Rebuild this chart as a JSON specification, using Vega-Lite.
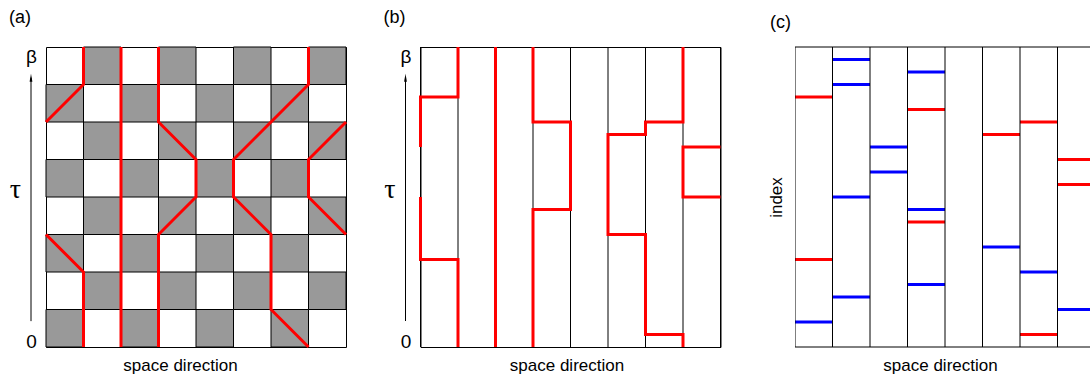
{
  "$schema": "https://vega.github.io/schema/vega-lite/v6.json",
  "background": "white",
  "padding": {"left": 8, "top": 8, "right": 0, "bottom": 0},
  "bounds": "flush",
  "spacing": 74.5,
  "config": {
    "font": "Liberation Sans",
    "view": {"stroke": "black", "strokeWidth": 1},
    "axis": {
      "grid": false, "ticks": false, "domain": false,
      "labelFontSize": 19, "labelColor": "black",
      "titleFontSize": 17, "titleFontWeight": "normal", "titleColor": "black"
    },
    "axisX": {"labels": false, "titlePadding": 10, "titleAlign": "center"},
    "title": {"fontSize": 18, "fontWeight": "normal", "color": "black", "anchor": "start", "frame": "group", "offset": 14.5}
  },
  "datasets": {
    "cells": [
      {"left": 0, "right": 1, "bottom": 0, "top": 1}, {"left": 2, "right": 3, "bottom": 0, "top": 1},
      {"left": 4, "right": 5, "bottom": 0, "top": 1}, {"left": 6, "right": 7, "bottom": 0, "top": 1},
      {"left": 1, "right": 2, "bottom": 1, "top": 2}, {"left": 3, "right": 4, "bottom": 1, "top": 2},
      {"left": 5, "right": 6, "bottom": 1, "top": 2}, {"left": 7, "right": 8, "bottom": 1, "top": 2},
      {"left": 0, "right": 1, "bottom": 2, "top": 3}, {"left": 2, "right": 3, "bottom": 2, "top": 3},
      {"left": 4, "right": 5, "bottom": 2, "top": 3}, {"left": 6, "right": 7, "bottom": 2, "top": 3},
      {"left": 1, "right": 2, "bottom": 3, "top": 4}, {"left": 3, "right": 4, "bottom": 3, "top": 4},
      {"left": 5, "right": 6, "bottom": 3, "top": 4}, {"left": 7, "right": 8, "bottom": 3, "top": 4},
      {"left": 0, "right": 1, "bottom": 4, "top": 5}, {"left": 2, "right": 3, "bottom": 4, "top": 5},
      {"left": 4, "right": 5, "bottom": 4, "top": 5}, {"left": 6, "right": 7, "bottom": 4, "top": 5},
      {"left": 1, "right": 2, "bottom": 5, "top": 6}, {"left": 3, "right": 4, "bottom": 5, "top": 6},
      {"left": 5, "right": 6, "bottom": 5, "top": 6}, {"left": 7, "right": 8, "bottom": 5, "top": 6},
      {"left": 0, "right": 1, "bottom": 6, "top": 7}, {"left": 2, "right": 3, "bottom": 6, "top": 7},
      {"left": 4, "right": 5, "bottom": 6, "top": 7}, {"left": 6, "right": 7, "bottom": 6, "top": 7},
      {"left": 1, "right": 2, "bottom": 7, "top": 8}, {"left": 3, "right": 4, "bottom": 7, "top": 8},
      {"left": 5, "right": 6, "bottom": 7, "top": 8}, {"left": 7, "right": 8, "bottom": 7, "top": 8}
    ],
    "pathsA": [
      {"path": 1, "seq": 0, "x": 1, "y": 0}, {"path": 1, "seq": 1, "x": 1, "y": 2}, {"path": 1, "seq": 2, "x": 0, "y": 3},
      {"path": 2, "seq": 0, "x": 8, "y": 3}, {"path": 2, "seq": 1, "x": 7, "y": 4}, {"path": 2, "seq": 2, "x": 7, "y": 5}, {"path": 2, "seq": 3, "x": 8, "y": 6},
      {"path": 3, "seq": 0, "x": 0, "y": 6}, {"path": 3, "seq": 1, "x": 1, "y": 7}, {"path": 3, "seq": 2, "x": 1, "y": 8},
      {"path": 4, "seq": 0, "x": 2, "y": 0}, {"path": 4, "seq": 1, "x": 2, "y": 8},
      {"path": 5, "seq": 0, "x": 3, "y": 0}, {"path": 5, "seq": 1, "x": 3, "y": 3}, {"path": 5, "seq": 2, "x": 4, "y": 4},
      {"path": 5, "seq": 3, "x": 4, "y": 5}, {"path": 5, "seq": 4, "x": 3, "y": 6}, {"path": 5, "seq": 5, "x": 3, "y": 8},
      {"path": 6, "seq": 0, "x": 7, "y": 0}, {"path": 6, "seq": 1, "x": 6, "y": 1}, {"path": 6, "seq": 2, "x": 6, "y": 3},
      {"path": 6, "seq": 3, "x": 5, "y": 4}, {"path": 6, "seq": 4, "x": 5, "y": 5}, {"path": 6, "seq": 5, "x": 6, "y": 6},
      {"path": 6, "seq": 6, "x": 7, "y": 7}, {"path": 6, "seq": 7, "x": 7, "y": 8}
    ],
    "pathsB": [
      {"path": 1, "seq": 0, "x": 1, "y": 0}, {"path": 1, "seq": 1, "x": 1, "y": 7}, {"path": 1, "seq": 2, "x": 0, "y": 7}, {"path": 1, "seq": 3, "x": 0, "y": 12},
      {"path": 2, "seq": 0, "x": 8, "y": 12}, {"path": 2, "seq": 1, "x": 7, "y": 12}, {"path": 2, "seq": 2, "x": 7, "y": 16}, {"path": 2, "seq": 3, "x": 8, "y": 16},
      {"path": 3, "seq": 0, "x": 0, "y": 16}, {"path": 3, "seq": 1, "x": 0, "y": 20}, {"path": 3, "seq": 2, "x": 1, "y": 20}, {"path": 3, "seq": 3, "x": 1, "y": 24},
      {"path": 4, "seq": 0, "x": 2, "y": 0}, {"path": 4, "seq": 1, "x": 2, "y": 24},
      {"path": 5, "seq": 0, "x": 3, "y": 24}, {"path": 5, "seq": 1, "x": 3, "y": 18}, {"path": 5, "seq": 2, "x": 4, "y": 18},
      {"path": 5, "seq": 3, "x": 4, "y": 11}, {"path": 5, "seq": 4, "x": 3, "y": 11}, {"path": 5, "seq": 5, "x": 3, "y": 0},
      {"path": 6, "seq": 0, "x": 7, "y": 24}, {"path": 6, "seq": 1, "x": 7, "y": 18}, {"path": 6, "seq": 2, "x": 6, "y": 18},
      {"path": 6, "seq": 3, "x": 6, "y": 17}, {"path": 6, "seq": 4, "x": 5, "y": 17}, {"path": 6, "seq": 5, "x": 5, "y": 9},
      {"path": 6, "seq": 6, "x": 6, "y": 9}, {"path": 6, "seq": 7, "x": 6, "y": 1}, {"path": 6, "seq": 8, "x": 7, "y": 1},
      {"path": 6, "seq": 9, "x": 7, "y": 0}
    ],
    "sites": [
      {"site": 0}, {"site": 1}, {"site": 2}, {"site": 3}, {"site": 4},
      {"site": 5}, {"site": 6}, {"site": 7}, {"site": 8}
    ],
    "ends": [{"index": 0}, {"index": 24}],
    "events": [
      {"from": 0, "to": 1, "index": 20, "kind": "A"}, {"from": 0, "to": 1, "index": 7, "kind": "A"}, {"from": 0, "to": 1, "index": 2, "kind": "B"},
      {"from": 1, "to": 2, "index": 23, "kind": "B"}, {"from": 1, "to": 2, "index": 21, "kind": "B"}, {"from": 1, "to": 2, "index": 12, "kind": "B"}, {"from": 1, "to": 2, "index": 4, "kind": "B"},
      {"from": 2, "to": 3, "index": 16, "kind": "B"}, {"from": 2, "to": 3, "index": 14, "kind": "B"},
      {"from": 3, "to": 4, "index": 22, "kind": "B"}, {"from": 3, "to": 4, "index": 19, "kind": "A"}, {"from": 3, "to": 4, "index": 11, "kind": "B"},
      {"from": 3, "to": 4, "index": 10, "kind": "A"}, {"from": 3, "to": 4, "index": 5, "kind": "B"},
      {"from": 5, "to": 6, "index": 17, "kind": "A"}, {"from": 5, "to": 6, "index": 8, "kind": "B"},
      {"from": 6, "to": 7, "index": 18, "kind": "A"}, {"from": 6, "to": 7, "index": 6, "kind": "B"}, {"from": 6, "to": 7, "index": 1, "kind": "A"},
      {"from": 7, "to": 8, "index": 15, "kind": "A"}, {"from": 7, "to": 8, "index": 13, "kind": "A"}, {"from": 7, "to": 8, "index": 3, "kind": "B"}
    ]
  },
  "hconcat": [
    {
      "width": 300,
      "height": 300,
      "title": {"text": "(a)", "dx": -37},
      "layer": [
        {
          "data": {"name": "cells"},
          "mark": {"type": "rect", "fill": "#999999", "stroke": "black", "strokeWidth": 1},
          "encoding": {
            "x": {"field": "left", "type": "quantitative", "scale": {"domain": [0, 8], "nice": false},
                  "axis": {"title": "space direction", "titleX": 134}},
            "x2": {"field": "right"},
            "y": {"field": "bottom", "type": "quantitative", "scale": {"domain": [0, 8], "nice": false},
                  "axis": {
                    "title": "τ", "values": [0, 8],
                    "labelExpr": "datum.value == 0 ? '0' : 'β'",
                    "labelAlign": "center", "labelPadding": 15,
                    "labelBaseline": {"condition": {"test": "datum.value == 0", "value": "alphabetic"}, "value": "top"},
                    "titleAngle": 0, "titleAlign": "right", "titleBaseline": "alphabetic",
                    "titleFont": "Liberation Serif", "titleFontSize": 28, "titlePadding": 5
                  }},
            "y2": {"field": "top"}
          }
        },
        {
          "data": {"name": "pathsA"},
          "mark": {"type": "line", "color": "#ff0000", "strokeWidth": 3, "strokeJoin": "miter", "strokeCap": "butt"},
          "encoding": {
            "x": {"field": "x", "type": "quantitative", "scale": {"domain": [0, 8], "nice": false}},
            "y": {"field": "y", "type": "quantitative", "scale": {"domain": [0, 8], "nice": false}},
            "detail": {"field": "path"},
            "order": {"field": "seq"}
          }
        },
        {
          "data": {"values": [{}]},
          "mark": {"type": "rule", "color": "black", "strokeWidth": 1},
          "encoding": {
            "x": {"datum": -0.4, "type": "quantitative"},
            "y": {"datum": 0.69, "type": "quantitative"},
            "y2": {"datum": 7.18}
          }
        },
        {
          "data": {"values": [{}]},
          "mark": {"type": "point", "shape": "M0,-1L0.35,1L-0.35,1Z", "size": 64, "filled": true, "color": "black", "opacity": 1},
          "encoding": {
            "x": {"datum": -0.4, "type": "quantitative"},
            "y": {"datum": 7.18, "type": "quantitative"}
          }
        }
      ]
    },
    {
      "width": 300,
      "height": 300,
      "title": {"text": "(b)", "dx": -37},
      "layer": [
        {
          "data": {"name": "sites"},
          "mark": {"type": "rule", "color": "black", "strokeWidth": 1},
          "encoding": {
            "x": {"field": "site", "type": "quantitative", "scale": {"domain": [0, 8], "nice": false},
                  "axis": {"title": "space direction", "titleX": 146}}
          }
        },
        {
          "data": {"name": "pathsB"},
          "mark": {"type": "line", "color": "#ff0000", "strokeWidth": 3, "strokeJoin": "miter", "strokeCap": "butt"},
          "encoding": {
            "x": {"field": "x", "type": "quantitative", "scale": {"domain": [0, 8], "nice": false}},
            "y": {"field": "y", "type": "quantitative", "scale": {"domain": [0, 24], "nice": false},
                  "axis": {
                    "title": "τ", "values": [0, 24],
                    "labelExpr": "datum.value == 0 ? '0' : 'β'",
                    "labelAlign": "center", "labelPadding": 15,
                    "labelBaseline": {"condition": {"test": "datum.value == 0", "value": "alphabetic"}, "value": "top"},
                    "titleAngle": 0, "titleAlign": "right", "titleBaseline": "alphabetic",
                    "titleFont": "Liberation Serif", "titleFontSize": 28, "titlePadding": 5
                  }},
            "detail": {"field": "path"},
            "order": {"field": "seq"}
          }
        },
        {
          "data": {"values": [{}]},
          "mark": {"type": "rule", "color": "black", "strokeWidth": 1},
          "encoding": {
            "x": {"datum": -0.4, "type": "quantitative"},
            "y": {"datum": 2.08, "type": "quantitative"},
            "y2": {"datum": 21.54}
          }
        },
        {
          "data": {"values": [{}]},
          "mark": {"type": "point", "shape": "M0,-1L0.35,1L-0.35,1Z", "size": 64, "filled": true, "color": "black", "opacity": 1},
          "encoding": {
            "x": {"datum": -0.4, "type": "quantitative"},
            "y": {"datum": 21.54, "type": "quantitative"}
          }
        }
      ]
    },
    {
      "width": 296,
      "height": 300,
      "title": {"text": "(c)", "dx": -25},
      "view": {"stroke": null},
      "layer": [
        {
          "data": {"name": "events"},
          "mark": {"type": "rule", "strokeWidth": 3, "clip": true},
          "encoding": {
            "x": {"field": "from", "type": "quantitative", "scale": {"domain": [0, 7.8933], "nice": false},
                  "axis": {"title": "space direction", "titleX": 145}},
            "x2": {"field": "to"},
            "y": {"field": "index", "type": "quantitative", "scale": {"domain": [0, 24], "nice": false},
                  "axis": {"title": "index", "labels": false, "titlePadding": 10}},
            "color": {"field": "kind", "type": "nominal", "scale": {"domain": ["A", "B"], "range": ["#ff0000", "#0000ff"]}, "legend": null}
          }
        },
        {
          "data": {"name": "sites"},
          "mark": {"type": "rule", "color": "black", "strokeWidth": 1, "clip": true},
          "encoding": {
            "x": {"field": "site", "type": "quantitative", "scale": {"domain": [0, 7.8933], "nice": false}}
          }
        },
        {
          "data": {"name": "ends"},
          "mark": {"type": "rule", "color": "black", "strokeWidth": 1},
          "encoding": {
            "y": {"field": "index", "type": "quantitative", "scale": {"domain": [0, 24], "nice": false}}
          }
        }
      ]
    }
  ]
}
